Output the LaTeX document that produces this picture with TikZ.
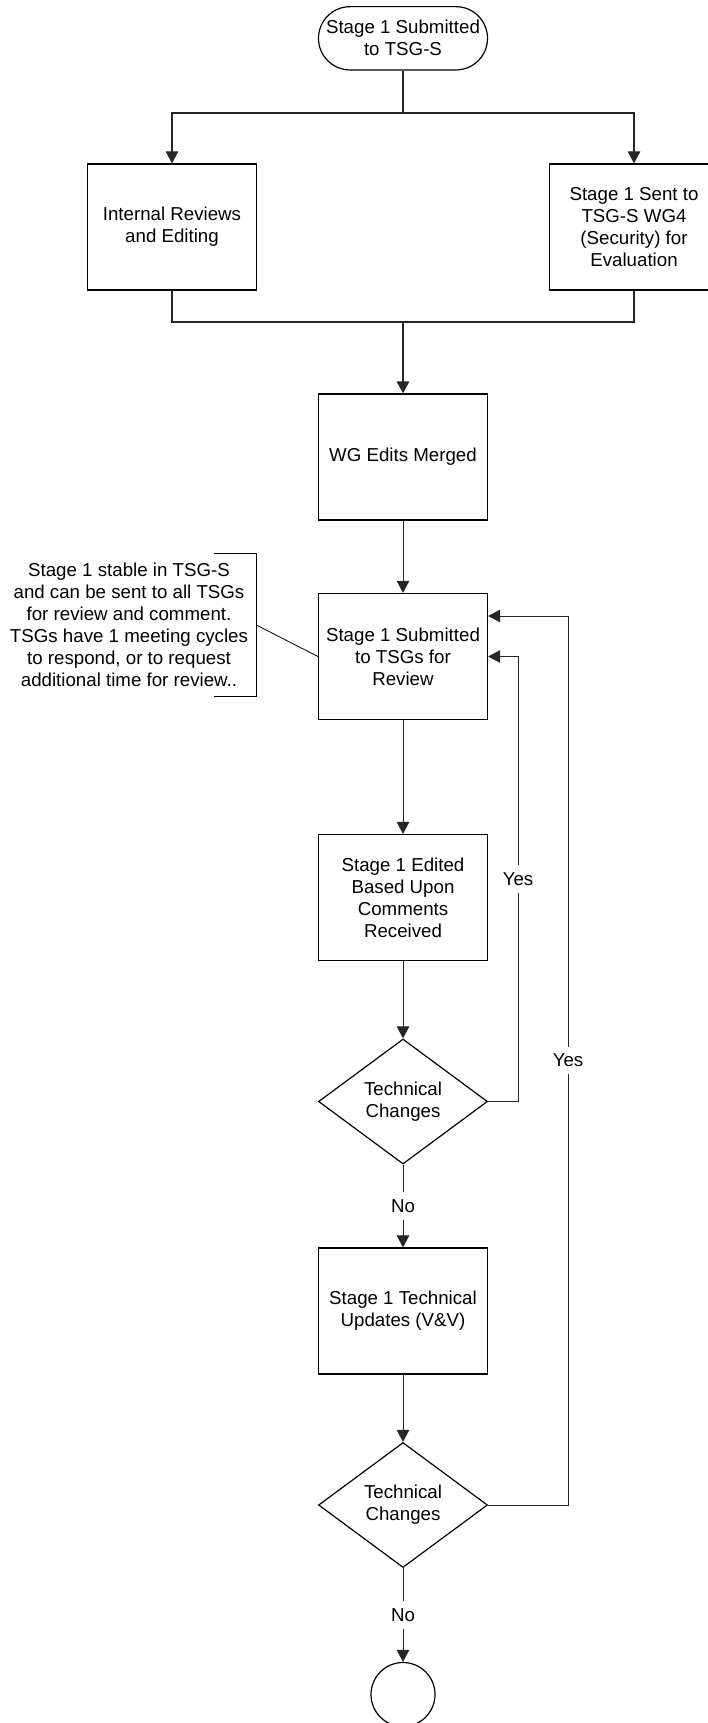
\documentclass[tikz,border=0pt]{standalone}
\usepackage{fontspec}
\setmainfont{Liberation Sans}
\usetikzlibrary{shapes.geometric,arrows.meta}
\begin{document}
\begin{tikzpicture}[x=1pt,y=-1pt,
  font=\fontsize{18.7}{22}\selectfont,
  box/.style={draw=black,line width=1.2pt,minimum width=169pt,minimum height=126pt,inner sep=0pt,align=center},
  term/.style={draw=black,line width=1.2pt,minimum width=169pt,minimum height=63.3pt,rounded corners=31.6pt,inner sep=0pt,align=center},
  dec/.style={draw=black,line width=1.2pt,shape=diamond,minimum width=169pt,minimum height=125pt,inner sep=0pt,aspect=1.35,align=center},
  endc/.style={draw=black,line width=1.2pt,shape=circle,minimum size=64pt,inner sep=0pt},
  conn/.style={draw=black!85,line width=1pt},
  arr/.style={conn,-{Triangle[length=12pt,width=12.5pt]}},
  lbl/.style={fill=white,inner xsep=2pt,inner ysep=7pt},
  notetext/.style={align=center,inner sep=0pt}
]
\path[use as bounding box,fill=white] (0,0) rectangle (708,1723);

\node[term] (start) at (403,38.3) {Stage 1 Submitted\\to TSG-S};
\node[box] (intrev) at (172,227) {Internal Reviews\\and Editing};
\node[box] (sent) at (634,227) {Stage 1 Sent to\\TSG-S WG4\\(Security) for\\Evaluation};
\node[box] (wg) at (403,457) {WG Edits Merged};
\node[box] (sub) at (403,656.5) {Stage 1 Submitted\\to TSGs for\\Review};
\node[box] (edit) at (403,897.5) {Stage 1 Edited\\Based Upon\\Comments\\Received};
\node[dec] (d1) at (403,1101.5) {Technical\\Changes};
\node[box] (upd) at (403,1311) {Stage 1 Technical\\Updates (V\&V)};
\node[dec] (d2) at (403,1505) {Technical\\Changes};
\node[endc] (fin) at (403,1694.5) {};

\node[notetext] (note) at (129,625) {Stage 1 stable in TSG-S\\and can be sent to all TSGs\\for review and comment.\\TSGs have 1 meeting cycles\\to respond, or to request\\additional time for review..};
\draw[line width=1pt] (214.3,553.3) -- (256.3,553.3) -- (256.3,696.7) -- (214.3,696.7);
\coordinate (nb) at (256.3,625);
\draw[line width=0.8pt] (nb) -- (sub.west);

\coordinate (br) at (403,113);
\coordinate (mg) at (403,322);
\draw[conn,line width=1.2pt] (start.south) -- (br);
\draw[arr,line width=1.2pt] (br) -| (intrev.north);
\draw[arr,line width=1.2pt] (br) -| (sent.north);
\draw[conn,line width=1.2pt] (intrev.south) |- (mg);
\draw[conn,line width=1.2pt] (sent.south) |- (mg);
\draw[arr,line width=1.2pt] (mg) -- (wg.north);
\draw[arr] (wg.south) -- (sub.north);
\draw[arr] (sub.south) -- (edit.north);
\draw[arr] (edit.south) -- (d1.north);
\draw[arr] (d1.south) -- node[lbl]{No} (upd.north);
\draw[arr] (upd.south) -- (d2.north);
\draw[arr] (d2.south) -- node[lbl]{No} (fin.north);

\coordinate (c1) at (518,1101.5);
\coordinate (c2) at (568,1505);
\draw[arr] (d1.east) -- (c1) |- node[lbl,pos=0.25]{Yes} (sub.east);
\draw[arr] (d2.east) -- (c2) |- node[lbl,pos=0.25]{Yes} ([yshift=40.5pt]sub.east);
\end{tikzpicture}
\end{document}
